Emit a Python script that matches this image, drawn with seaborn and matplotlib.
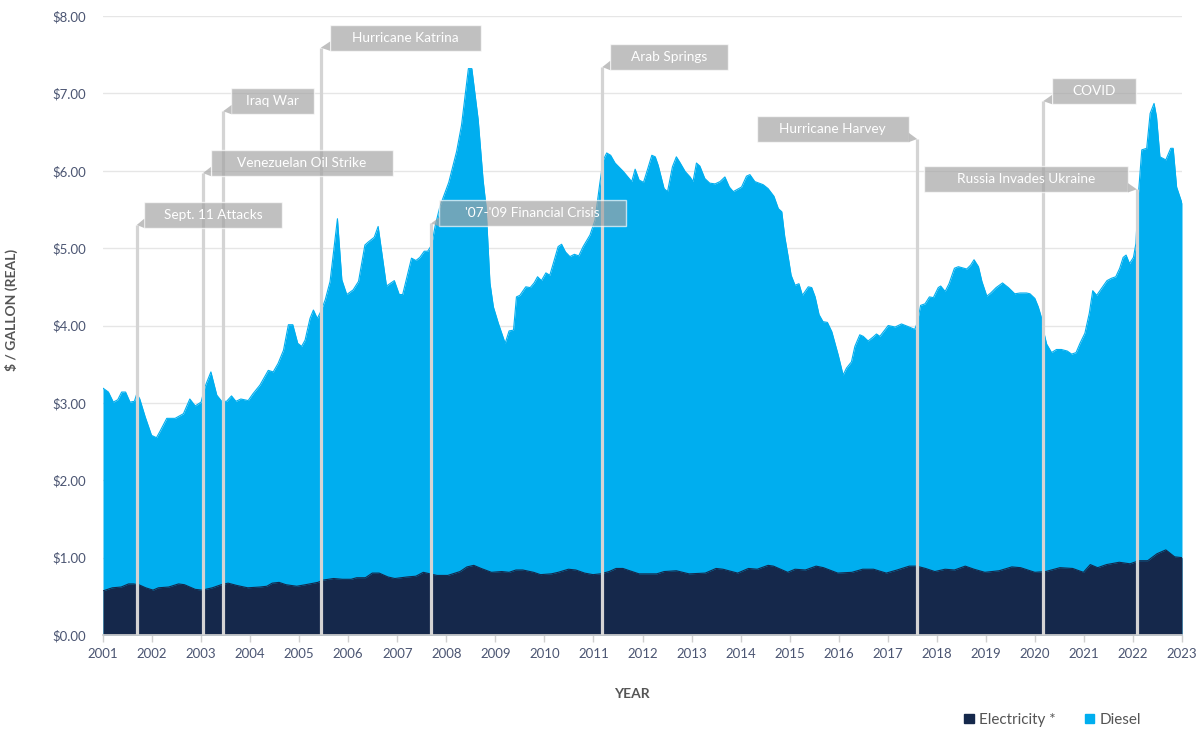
import numpy as np
import pandas as pd
import matplotlib.pyplot as plt
import seaborn as sns
from matplotlib.patches import Rectangle, Polygon, Patch

# diesel price ($/gal, real), by decimal year
diesel_year = [2001.00, 2001.11, 2001.21, 2001.30, 2001.38, 2001.46, 2001.55, 2001.64, 2001.69, 2001.75,
               2001.86, 2001.99, 2002.09, 2002.16, 2002.30, 2002.47, 2002.64, 2002.77, 2002.88, 2003.00,
               2003.08, 2003.20, 2003.32, 2003.42, 2003.52, 2003.62, 2003.71, 2003.81, 2003.96, 2004.06,
               2004.20, 2004.37, 2004.47, 2004.57, 2004.68, 2004.78, 2004.87, 2004.97, 2005.05, 2005.12,
               2005.22, 2005.29, 2005.37, 2005.44, 2005.53, 2005.63, 2005.78, 2005.87, 2005.97, 2006.10,
               2006.21, 2006.34, 2006.41, 2006.53, 2006.61, 2006.78, 2006.94, 2007.04, 2007.11, 2007.29,
               2007.38, 2007.46, 2007.55, 2007.62, 2007.70, 2007.77, 2007.87, 2008.05, 2008.21, 2008.31,
               2008.45, 2008.52, 2008.65, 2008.75, 2008.81, 2008.89, 2008.96, 2009.06, 2009.20, 2009.28,
               2009.37, 2009.43, 2009.50, 2009.62, 2009.71, 2009.79, 2009.86, 2009.94, 2010.03, 2010.11,
               2010.18, 2010.28, 2010.35, 2010.43, 2010.52, 2010.61, 2010.70, 2010.79, 2010.93, 2011.03,
               2011.13, 2011.20, 2011.27, 2011.35, 2011.44, 2011.61, 2011.78, 2011.85, 2011.93, 2012.02,
               2012.08, 2012.19, 2012.26, 2012.32, 2012.44, 2012.51, 2012.61, 2012.69, 2012.76, 2012.87,
               2012.97, 2013.03, 2013.10, 2013.17, 2013.27, 2013.37, 2013.48, 2013.58, 2013.68, 2013.77,
               2013.85, 2014.02, 2014.12, 2014.19, 2014.29, 2014.46, 2014.56, 2014.68, 2014.77, 2014.84,
               2014.90, 2014.97, 2015.03, 2015.11, 2015.19, 2015.26, 2015.38, 2015.45, 2015.52, 2015.60,
               2015.68, 2015.77, 2015.86, 2015.99, 2016.09, 2016.16, 2016.26, 2016.33, 2016.43, 2016.50,
               2016.60, 2016.70, 2016.77, 2016.84, 2017.01, 2017.15, 2017.28, 2017.40, 2017.55, 2017.60,
               2017.67, 2017.76, 2017.85, 2017.93, 2018.03, 2018.08, 2018.17, 2018.25, 2018.36, 2018.44,
               2018.61, 2018.69, 2018.76, 2018.85, 2018.92, 2019.02, 2019.10, 2019.21, 2019.34, 2019.46,
               2019.59, 2019.70, 2019.83, 2019.90, 2020.00, 2020.07, 2020.14, 2020.18, 2020.24, 2020.34,
               2020.44, 2020.54, 2020.66, 2020.75, 2020.84, 2020.92, 2021.02, 2021.11, 2021.18, 2021.26,
               2021.36, 2021.47, 2021.56, 2021.65, 2021.73, 2021.80, 2021.86, 2021.93, 2022.01, 2022.06,
               2022.11, 2022.18, 2022.28, 2022.35, 2022.43, 2022.48, 2022.55, 2022.67, 2022.77, 2022.82,
               2022.89, 2023.00]
diesel_price = [3.19, 3.14, 3.01, 3.04, 3.14, 3.14, 3.01, 3.02, 3.12, 3.05,
                2.82, 2.58, 2.55, 2.63, 2.80, 2.80, 2.86, 3.05, 2.96, 3.01,
                3.21, 3.40, 3.10, 3.02, 3.02, 3.09, 3.02, 3.05, 3.03, 3.12,
                3.23, 3.42, 3.40, 3.51, 3.68, 4.01, 4.01, 3.77, 3.73, 3.81,
                4.09, 4.20, 4.09, 4.18, 4.33, 4.57, 5.38, 4.59, 4.40, 4.46,
                4.57, 5.04, 5.08, 5.14, 5.28, 4.51, 4.58, 4.40, 4.40, 4.87,
                4.84, 4.88, 4.96, 4.96, 5.04, 5.28, 5.54, 5.85, 6.25, 6.59,
                7.32, 7.32, 6.66, 5.88, 5.54, 4.55, 4.24, 4.03, 3.77, 3.93,
                3.94, 4.37, 4.39, 4.50, 4.49, 4.55, 4.63, 4.58, 4.68, 4.65,
                4.80, 5.02, 5.05, 4.95, 4.89, 4.92, 4.90, 5.02, 5.17, 5.36,
                5.84, 6.14, 6.23, 6.20, 6.10, 5.99, 5.86, 6.02, 5.88, 5.85,
                5.97, 6.20, 6.18, 6.07, 5.77, 5.73, 6.05, 6.18, 6.11, 5.99,
                5.92, 5.86, 6.10, 6.06, 5.90, 5.84, 5.83, 5.86, 5.92, 5.79,
                5.73, 5.79, 5.93, 5.95, 5.86, 5.82, 5.77, 5.67, 5.51, 5.47,
                5.15, 4.89, 4.65, 4.52, 4.54, 4.39, 4.50, 4.49, 4.37, 4.14,
                4.05, 4.04, 3.92, 3.62, 3.36, 3.45, 3.53, 3.73, 3.88, 3.86,
                3.80, 3.85, 3.89, 3.86, 4.00, 3.98, 4.02, 3.99, 3.95, 4.03,
                4.26, 4.28, 4.37, 4.36, 4.49, 4.51, 4.44, 4.54, 4.74, 4.76,
                4.73, 4.78, 4.85, 4.76, 4.57, 4.38, 4.42, 4.49, 4.55, 4.49,
                4.41, 4.42, 4.42, 4.41, 4.35, 4.24, 4.09, 3.92, 3.76, 3.65,
                3.69, 3.69, 3.67, 3.63, 3.65, 3.77, 3.90, 4.16, 4.45, 4.39,
                4.48, 4.58, 4.61, 4.63, 4.74, 4.88, 4.91, 4.80, 4.88, 5.06,
                5.69, 6.27, 6.29, 6.74, 6.87, 6.70, 6.18, 6.14, 6.29, 6.29,
                5.79, 5.58]

# electricity equivalent price ($/gal, real)
elec_year = [2001.00, 2001.19, 2001.37, 2001.52, 2001.62, 2001.73, 2001.87, 2002.02, 2002.13, 2002.34,
             2002.54, 2002.66, 2002.88, 2003.02, 2003.23, 2003.41, 2003.55, 2003.73, 2003.95, 2004.20,
             2004.34, 2004.45, 2004.59, 2004.73, 2004.95, 2005.13, 2005.38, 2005.49, 2005.70, 2005.88,
             2006.06, 2006.17, 2006.35, 2006.49, 2006.63, 2006.81, 2006.95, 2007.20, 2007.38, 2007.53,
             2007.67, 2007.81, 2008.03, 2008.28, 2008.42, 2008.56, 2008.71, 2008.92, 2009.13, 2009.28,
             2009.42, 2009.56, 2009.78, 2009.92, 2010.14, 2010.28, 2010.49, 2010.64, 2010.82, 2010.99,
             2011.14, 2011.32, 2011.46, 2011.60, 2011.74, 2011.93, 2012.29, 2012.44, 2012.69, 2012.95,
             2013.28, 2013.50, 2013.64, 2013.94, 2014.16, 2014.34, 2014.56, 2014.67, 2014.96, 2015.11,
             2015.32, 2015.54, 2015.69, 2015.98, 2016.27, 2016.49, 2016.71, 2016.97, 2017.19, 2017.44,
             2017.59, 2017.77, 2017.96, 2018.17, 2018.36, 2018.58, 2018.76, 2018.98, 2019.27, 2019.53,
             2019.71, 2020.00, 2020.22, 2020.51, 2020.77, 2020.99, 2021.13, 2021.28, 2021.46, 2021.72,
             2021.94, 2022.12, 2022.30, 2022.49, 2022.67, 2022.85, 2023.00]
elec_price = [0.57, 0.61, 0.62, 0.66, 0.66, 0.65, 0.61, 0.58, 0.61, 0.62,
              0.66, 0.65, 0.59, 0.58, 0.61, 0.65, 0.67, 0.64, 0.61, 0.62,
              0.63, 0.67, 0.68, 0.65, 0.63, 0.65, 0.68, 0.71, 0.73, 0.72,
              0.72, 0.74, 0.74, 0.80, 0.80, 0.75, 0.73, 0.75, 0.76, 0.81,
              0.79, 0.77, 0.77, 0.82, 0.88, 0.90, 0.86, 0.81, 0.82, 0.81,
              0.84, 0.84, 0.81, 0.78, 0.79, 0.81, 0.85, 0.84, 0.80, 0.78,
              0.79, 0.82, 0.86, 0.86, 0.83, 0.79, 0.79, 0.82, 0.83, 0.79,
              0.80, 0.86, 0.85, 0.80, 0.86, 0.85, 0.90, 0.89, 0.81, 0.85,
              0.84, 0.89, 0.87, 0.80, 0.81, 0.85, 0.85, 0.80, 0.84, 0.89,
              0.89, 0.86, 0.82, 0.85, 0.84, 0.89, 0.85, 0.81, 0.83, 0.88,
              0.87, 0.81, 0.82, 0.87, 0.86, 0.81, 0.91, 0.87, 0.91, 0.94,
              0.92, 0.96, 0.96, 1.05, 1.10, 1.01, 1.00]

# events
events = ["Sept. 11 Attacks", "Venezuelan Oil Strike", "Iraq War", "Hurricane Katrina",
          "'07-'09 Financial Crisis", "Arab Springs", "Hurricane Harvey", "COVID",
          "Russia Invades Ukraine"]
event_dates = [2001.69, 2003.04, 2003.45, 2005.44, 2007.69, 2011.18, 2017.60, 2020.17, 2022.08]
# callout box layout: left, right, bottom (data units)
box_left = [2001.84, 2003.20, 2003.62, 2005.63, 2007.86, 2011.34, 2014.33, 2020.35, 2017.74]
box_right = [2004.65, 2006.92, 2005.30, 2008.71, 2011.66, 2013.75, 2017.43, 2022.06, 2021.90]
box_bottom = [5.26, 5.93, 6.73, 7.55, 5.28, 7.30, 6.37, 6.86, 5.72]
box_h = 0.34

years = list(range(2001, 2024))

ELEC = "#15284b"
DIESEL = "#00aeef"
BOX = "#a3a3a3"

sns.set_theme(style="white")
plt.rcParams['font.family'] = ['Lato', 'DejaVu Sans']

fig = plt.figure(figsize=(12, 7.3), dpi=100)
ax = fig.add_axes([103/1200, 1 - 635/730, 1079/1200, 619/730])

ax.fill_between(diesel_year, diesel_price, color=DIESEL, lw=0, zorder=1)
sns.lineplot(x=diesel_year, y=diesel_price, color=DIESEL, lw=0.8, ax=ax, zorder=1)
ax.fill_between(elec_year, elec_price, color=ELEC, lw=0, zorder=2)
sns.lineplot(x=elec_year, y=elec_price, color=ELEC, lw=0.8, ax=ax, zorder=2)

# event lines + callouts
for i, name in enumerate(events):
    d = event_dates[i]
    l, r, b = box_left[i], box_right[i], box_bottom[i]
    top = b + 0.04
    ax.vlines(d, 0, top, color="#d4d4d4", lw=2.3, zorder=3)
    ax.add_patch(Rectangle((l, b), r - l, box_h, facecolor=BOX, alpha=0.68,
                           edgecolor="white", lw=1.0, zorder=4))
    if d < l:
        tri = [(d, top), (l, b + 0.12), (l, b)]
    else:
        tri = [(r, b), (r, b + 0.12), (d, top)]
    ax.add_patch(Polygon(tri, closed=True, facecolor=BOX, alpha=0.68, lw=0, zorder=4))
    ax.text((l + r) / 2, b + box_h / 2, name, color="white", fontsize=9.8,
            ha="center", va="center", zorder=5)

ax.set_xlim(2001, 2023)
ax.set_ylim(0, 8)
ax.set_xticks(years)
ax.set_xticklabels([str(y) for y in years])
ax.set_yticks(np.arange(0, 9, 1))
ax.set_yticklabels([f"${v:.2f}" for v in range(9)])
ax.grid(axis="y", color="#e6e6e6", lw=1)
ax.grid(axis="x", visible=False)
ax.set_axisbelow(True)
for s in ["top", "right", "left"]:
    ax.spines[s].set_visible(False)
ax.spines["bottom"].set_color("#d0d0d0")
ax.tick_params(axis="x", colors="#d0d0d0", length=5, width=1, labelcolor="#4b5572",
               labelsize=9.5, pad=4, bottom=True)
ax.tick_params(axis="y", length=0, labelcolor="#4b5572", labelsize=9.5, pad=12)

ax.set_xlabel("YEAR", fontsize=10, fontweight="bold", color="#555555")
ax.xaxis.set_label_coords(0.49, -0.086)
ax.set_ylabel("$ / GALLON (REAL)", fontsize=10, fontweight="bold", color="#555555")
ax.yaxis.set_label_coords(-0.079, 0.525)

handles = [Patch(color=ELEC, label="Electricity *"), Patch(color=DIESEL, label="Diesel")]
fig.legend(handles=handles, loc="center right", bbox_to_anchor=(0.962, 0.014), ncol=2,
           frameon=False, fontsize=11, handlelength=0.6, handleheight=0.6,
           handletextpad=0.35, columnspacing=1.9, labelcolor="#555555")

fig.savefig("out.png", dpi=100)
